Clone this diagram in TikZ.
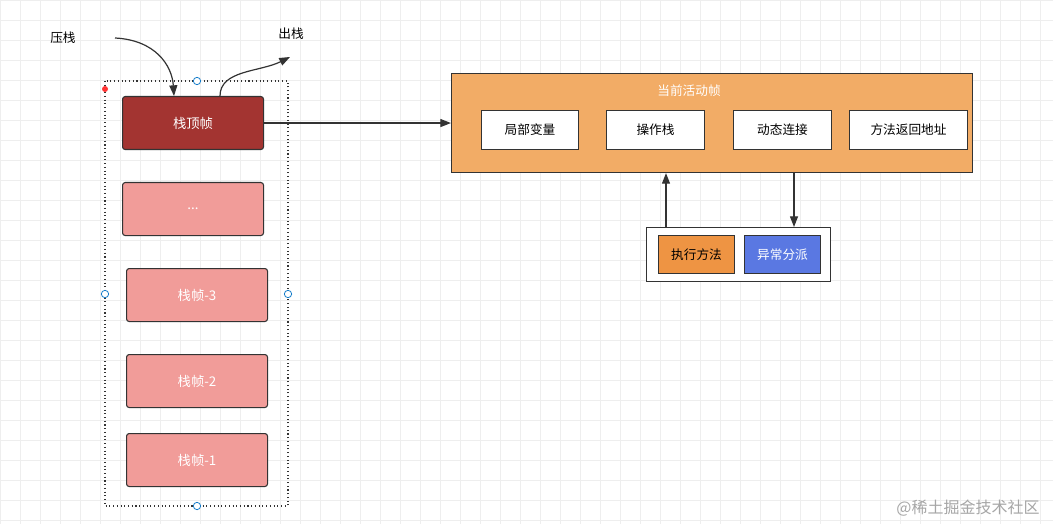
\documentclass[tikz,border=0pt]{standalone}
\usepackage{fontspec}
\setmainfont{Noto Sans CJK SC}
\usetikzlibrary{arrows.meta}
\definecolor{topc}{HTML}{A33431}
\definecolor{pinkc}{HTML}{F19C99}
\definecolor{orc}{HTML}{F2AC66}
\definecolor{exc}{HTML}{EE9443}
\definecolor{bluec}{HTML}{5A78E2}
\definecolor{edgec}{HTML}{333333}
\definecolor{gridc}{HTML}{EEEEEE}
\begin{document}
\begin{tikzpicture}[x=0.75pt,y=-0.75pt,
  box/.style={draw=edgec,line width=0.8pt,inner sep=0pt,anchor=north west,font=\fontsize{9.5}{11}\selectfont},
  frame/.style={box,rounded corners=2pt,fill=pinkc,text=white,font=\fontsize{10}{12}\selectfont},
  inner/.style={box,fill=white,text=black},
  handle/.style={circle,draw=cyan!60!blue,fill=white,line width=0.6pt,inner sep=0pt,minimum size=5.5pt},
  arr/.style={-{Triangle[length=8pt,width=6pt]},line width=0.9pt,draw=edgec},
  lbl/.style={font=\fontsize{9.5}{11}\selectfont}]
\useasboundingbox (0,0) rectangle (1053,524);
\fill[white] (0,0) rectangle (1053,524);
\foreach \x in {0,20,...,1040} \draw[gridc,line width=0.4pt] (\x,0) -- (\x,524);
\foreach \y in {0,20,...,520} \draw[gridc,line width=0.4pt] (0,\y) -- (1053,\y);
% stack
\draw[edgec,line width=0.8pt,dotted] (105,81) rectangle (288,506);
\node[frame,fill=topc,minimum width=141*0.75pt,minimum height=53*0.75pt] (top) at (122,96) {栈顶帧};
\node[frame,minimum width=141*0.75pt,minimum height=53*0.75pt] (dots) at (122,182) {...};
\node[frame,minimum width=141*0.75pt,minimum height=53*0.75pt] (f3) at (126,268) {栈帧-3};
\node[frame,minimum width=141*0.75pt,minimum height=53*0.75pt] (f2) at (126,354) {栈帧-2};
\node[frame,minimum width=141*0.75pt,minimum height=53*0.75pt] (f1) at (126,433) {栈帧-1};
\node[handle] (h1) at (197,81) {};
\node[handle] (h2) at (105,294) {};
\node[handle] (h3) at (288,294) {};
\node[handle] (h4) at (197,506) {};
\node[circle,fill=red!80,inner sep=0pt,minimum size=4.5pt] (rd) at (105,89) {};
\node[lbl] (push) at (63,38) {压栈};
\node[lbl] (pop) at (291,34) {出栈};
\coordinate (ps) at (115,38);
\coordinate (pe) at (290,57);
\draw[arr] (ps) .. controls (155,40) and (172,65) .. (top.north -| 174,0);
\draw[arr] (top.north -| 220,0) .. controls (220,70) and (260,72) .. (pe);
% current frame
\node[box,fill=orc,minimum width=521*0.75pt,minimum height=99*0.75pt] (cur) at (451,73) {};
\node[lbl,text=white] (title) at (689,91) {当前活动帧};
\node[inner,minimum width=97*0.75pt,minimum height=39*0.75pt] (a) at (481,110) {局部变量};
\node[inner,minimum width=98*0.75pt,minimum height=39*0.75pt] (b) at (606,110) {操作栈};
\node[inner,minimum width=98*0.75pt,minimum height=39*0.75pt] (c) at (733,110) {动态连接};
\node[inner,minimum width=118*0.75pt,minimum height=39*0.75pt] (d) at (849,110) {方法返回地址};
\draw[arr] (top.east) -- (cur.west |- top.east);
% lower
\node[inner,minimum width=184*0.75pt,minimum height=54*0.75pt] (low) at (646,227) {};
\node[box,fill=exc,minimum width=76*0.75pt,minimum height=38*0.75pt] (ex) at (658,235) {执行方法};
\node[box,fill=bluec,text=white,minimum width=76*0.75pt,minimum height=38*0.75pt] (dis) at (744,235) {异常分派};
\draw[arr] (low.north -| 666,0) -- (cur.south -| 666,0);
\draw[arr] (cur.south -| 794,0) -- (low.north -| 794,0);
\node[font=\fontsize{12}{14}\selectfont,text=gray!70] (wm) at (968,508) {@稀土掘金技术社区};
\end{tikzpicture}
\end{document}
